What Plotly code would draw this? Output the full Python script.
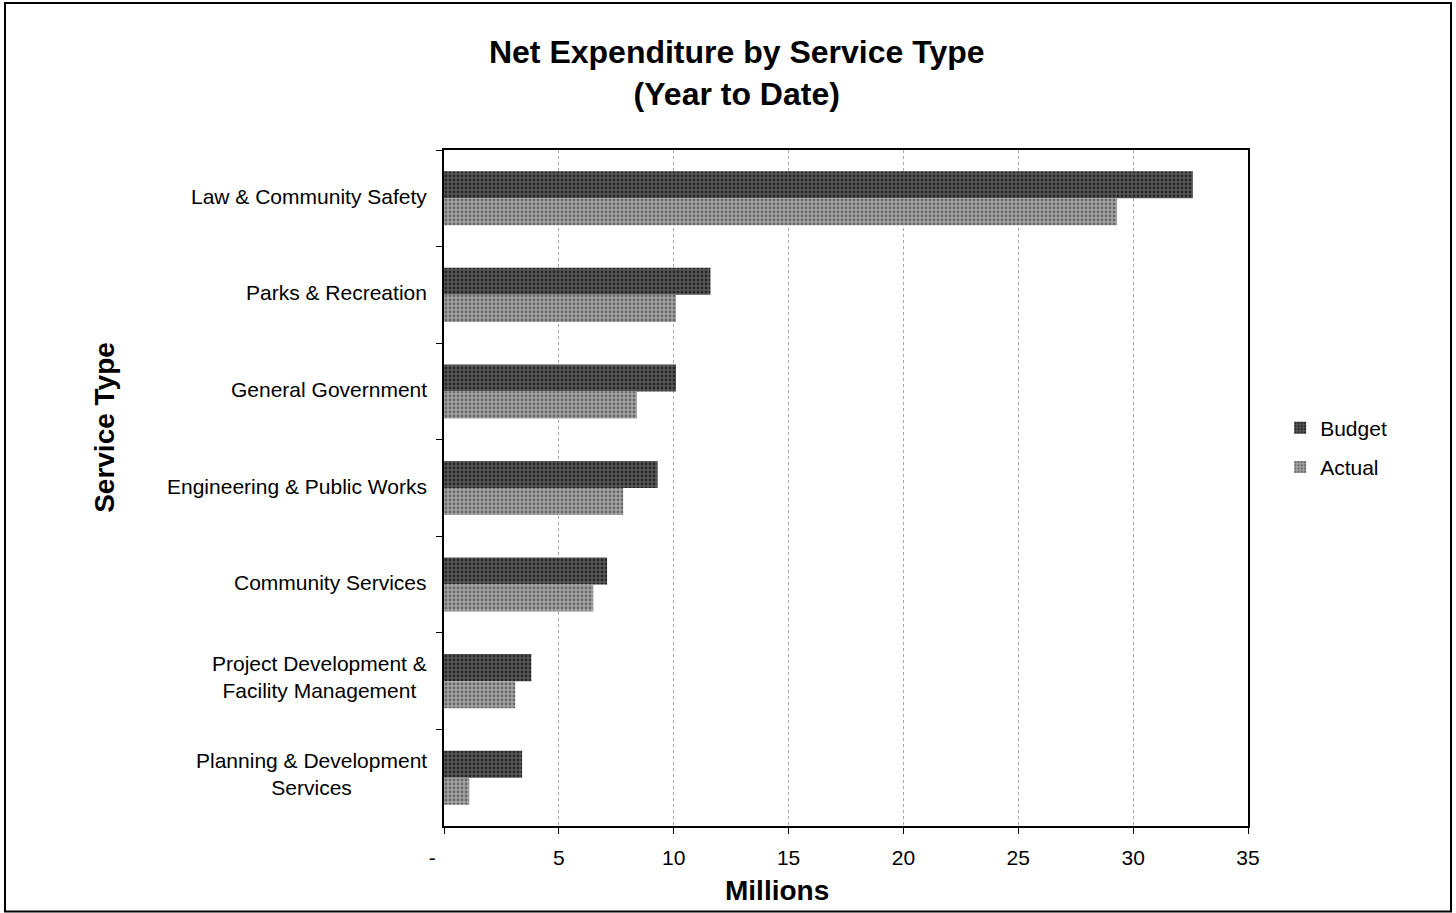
import plotly.graph_objects as go

# Service categories, top to bottom
categories = [
    "Law & Community Safety",
    "Parks & Recreation",
    "General Government",
    "Engineering & Public Works",
    "Community Services",
    "Project Development &<br>Facility Management",
    "Planning & Development<br>Services",
]

# Net expenditure, millions
budget = [32.6, 11.6, 10.1, 9.3, 7.1, 3.8, 3.4]
actual = [29.3, 10.1, 8.4, 7.8, 6.5, 3.1, 1.1]

# X-axis ticks (zero shown as a dash, accounting style)
tick_values = [0, 5, 10, 15, 20, 25, 30, 35]
tick_labels = ["-\u00a0\u00a0\u00a0\u00a0", "5", "10", "15", "20", "25", "30", "35"]

FONT = "Liberation Sans, Arial, sans-serif"

fig = go.Figure()
fig.add_trace(go.Bar(
    name="Budget", y=categories, x=budget, orientation="h", legendgroup="b",
    marker=dict(color="#474747", line=dict(width=0),
                pattern=dict(shape=".", fgcolor="#262626", bgcolor="#585858",
                             size=4, solidity=0.4, fillmode="replace")),
))
fig.add_trace(go.Bar(
    name="Actual", y=categories, x=actual, orientation="h", legendgroup="a",
    marker=dict(color="#8e8e8e", line=dict(width=0),
                pattern=dict(shape=".", fgcolor="#676767", bgcolor="#a6a6a6",
                             size=4, solidity=0.4, fillmode="replace")),
))

# Category labels as centred multi-line text to the left of the axis
for cat in categories:
    fig.add_annotation(
        x=-0.019, xref="paper", y=cat, yref="y", text=cat,
        xanchor="right", yanchor="middle", align="center", showarrow=False,
        yshift=4 if "<br>" in cat else 2,
        font=dict(family=FONT, size=21, color="black"),
    )

# Axis titles
fig.add_annotation(
    x=-0.4216, xref="paper", y=0.589, yref="paper", text="<b>Service Type</b>",
    textangle=-90, showarrow=False, xanchor="center", yanchor="middle",
    font=dict(family=FONT, size=28, color="black"),
)
fig.add_annotation(
    x=0.414, xref="paper", y=-0.096, yref="paper", text="<b>Millions</b>",
    showarrow=False, xanchor="center", yanchor="middle",
    font=dict(family=FONT, size=28, color="black"),
)

# Outer chart frame
fig.add_shape(
    type="rect", xref="paper", yref="paper",
    x0=-0.5460, x1=1.2525, y0=-0.1265, y1=1.2175,
    line=dict(color="black", width=2), fillcolor="rgba(0,0,0,0)", layer="below",
)

fig.update_layout(
    width=1456, height=913,
    margin=dict(l=444, r=208, t=150, b=87),
    paper_bgcolor="white", plot_bgcolor="white",
    barmode="group", bargap=0.44, bargroupgap=0,
    title=dict(
        text="<b>Net Expenditure by Service Type<br>(Year to Date)</b>",
        x=0.506, xanchor="center", y=0.931, yanchor="top", yref="container",
        font=dict(family=FONT, size=32, color="black"),
    ),
    legend=dict(
        x=1.040, xanchor="left", y=0.619, yanchor="top",
        traceorder="grouped", font=dict(family=FONT, size=21, color="black"),
        itemwidth=30, tracegroupgap=9, bgcolor="rgba(0,0,0,0)",
    ),
    xaxis=dict(
        range=[0, 35], tickvals=tick_values, ticktext=tick_labels,
        showgrid=True, gridcolor="#a8a8a8", griddash="dot", gridwidth=1,
        showline=True, linecolor="black", linewidth=2, mirror=True,
        ticks="outside", ticklen=6, tickcolor="black", ticklabelstandoff=6,
        tickfont=dict(family=FONT, size=21, color="black"),
        zeroline=False, fixedrange=True,
    ),
    yaxis=dict(
        categoryorder="array", categoryarray=categories, autorange="reversed",
        showticklabels=False, showgrid=False,
        showline=True, linecolor="black", linewidth=2, mirror=True,
        ticks="outside", ticklen=6, tickcolor="black", tickson="boundaries",
        zeroline=False, fixedrange=True,
    ),
)

fig.write_html("out.html")
